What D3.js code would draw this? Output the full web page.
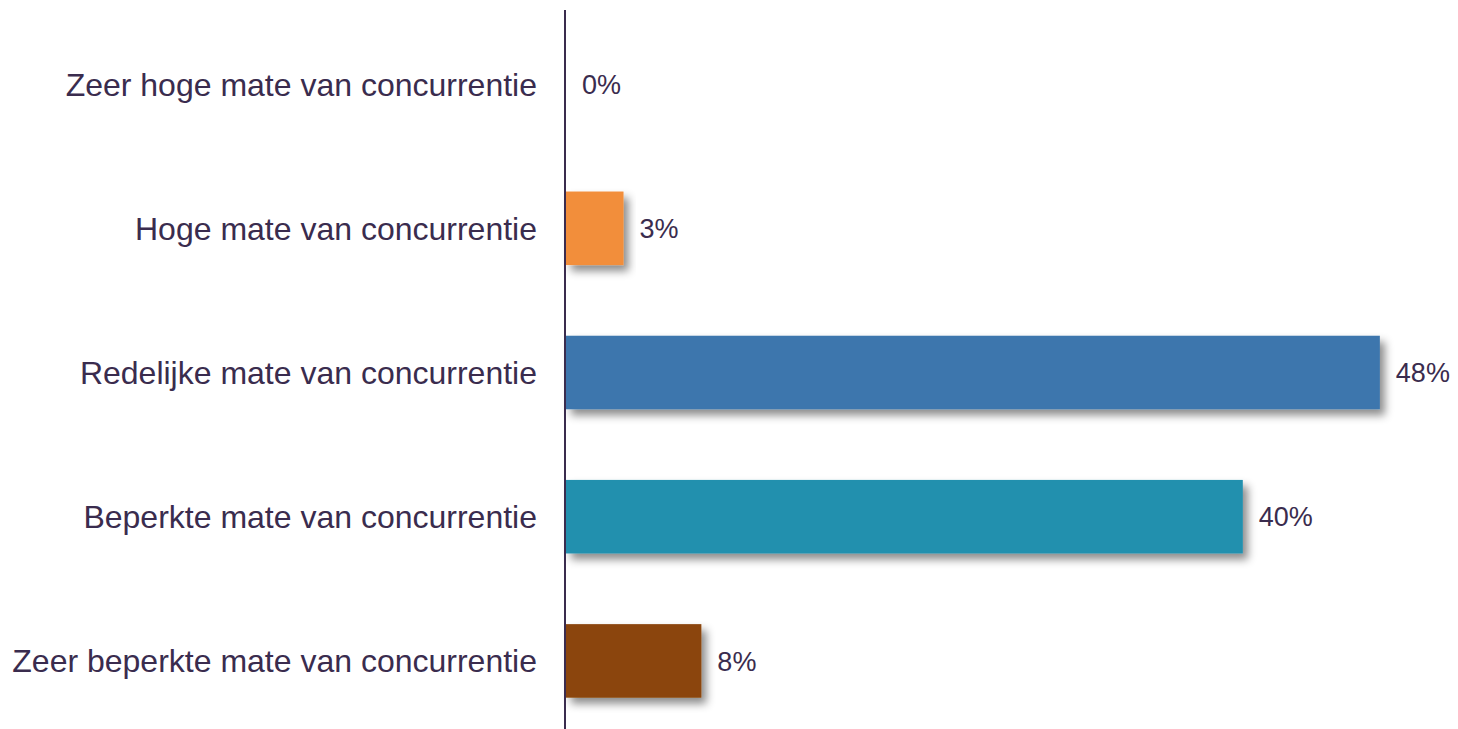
<!DOCTYPE html>
<html>
<head>
<meta charset="utf-8">
<script src="https://cdn.jsdelivr.net/npm/d3@7"></script>
<style>
body { margin: 0; background: #fff; }
text { font-family: Arial, "Liberation Sans", sans-serif; fill: #3a2c4e; }
</style>
</head>
<body>
<svg id="chart" width="1458" height="729"></svg>
<script>
var categories = [
	"Zeer hoge mate van concurrentie",
	"Hoge mate van concurrentie",
	"Redelijke mate van concurrentie",
	"Beperkte mate van concurrentie",
	"Zeer beperkte mate van concurrentie"
];
var values = [0, 3.4, 48.1, 40.0, 8.0];
var valueLabels = ["0%", "3%", "48%", "40%", "8%"];
var colors = ["#F28E3A", "#F28E3A", "#3C76AD", "#2190AE", "#8B4409"];

var axisX = 566;
var svg = d3.select("#chart");

var x = d3.scaleLinear().domain([0, 50]).range([axisX, axisX + 846]);
var y = d3.scaleBand().domain(categories).range([12, 733]).paddingInner(0.49).paddingOuter(0.245);

var defs = svg.append("defs");
var f = defs.append("filter").attr("id", "shadow")
	.attr("x", "-10%").attr("y", "-30%").attr("width", "130%").attr("height", "170%");
f.append("feDropShadow")
	.attr("dx", 5).attr("dy", 6).attr("stdDeviation", 4)
	.attr("flood-color", "#000").attr("flood-opacity", 0.45);

// bars
svg.selectAll("rect.bar").data(values).enter().append("rect")
	.attr("class", "bar")
	.attr("x", x(0))
	.attr("y", function(d, i) { return y(categories[i]); })
	.attr("width", function(d) { return x(d) - x(0); })
	.attr("height", y.bandwidth())
	.attr("fill", function(d, i) { return colors[i]; })
	.attr("filter", function(d) { return d > 0 ? "url(#shadow)" : null; });

// value labels
svg.selectAll("text.val").data(values).enter().append("text")
	.attr("class", "val")
	.attr("x", function(d) { return x(d) + 16; })
	.attr("y", function(d, i) { return y(categories[i]) + y.bandwidth() / 2; })
	.attr("dy", "0.36em")
	.style("font-size", "27px")
	.text(function(d, i) { return valueLabels[i]; });

// category labels
svg.selectAll("text.cat").data(categories).enter().append("text")
	.attr("class", "cat")
	.attr("x", 537)
	.attr("y", function(d) { return y(d) + y.bandwidth() / 2; })
	.attr("dy", "0.36em")
	.attr("text-anchor", "end")
	.style("font-size", "32px")
	.text(function(d) { return d; });

// vertical axis line
svg.append("line")
	.attr("x1", axisX - 1).attr("x2", axisX - 1)
	.attr("y1", 10).attr("y2", 729)
	.attr("stroke", "#3a2c4e").attr("stroke-width", 2);
</script>
</body>
</html>
